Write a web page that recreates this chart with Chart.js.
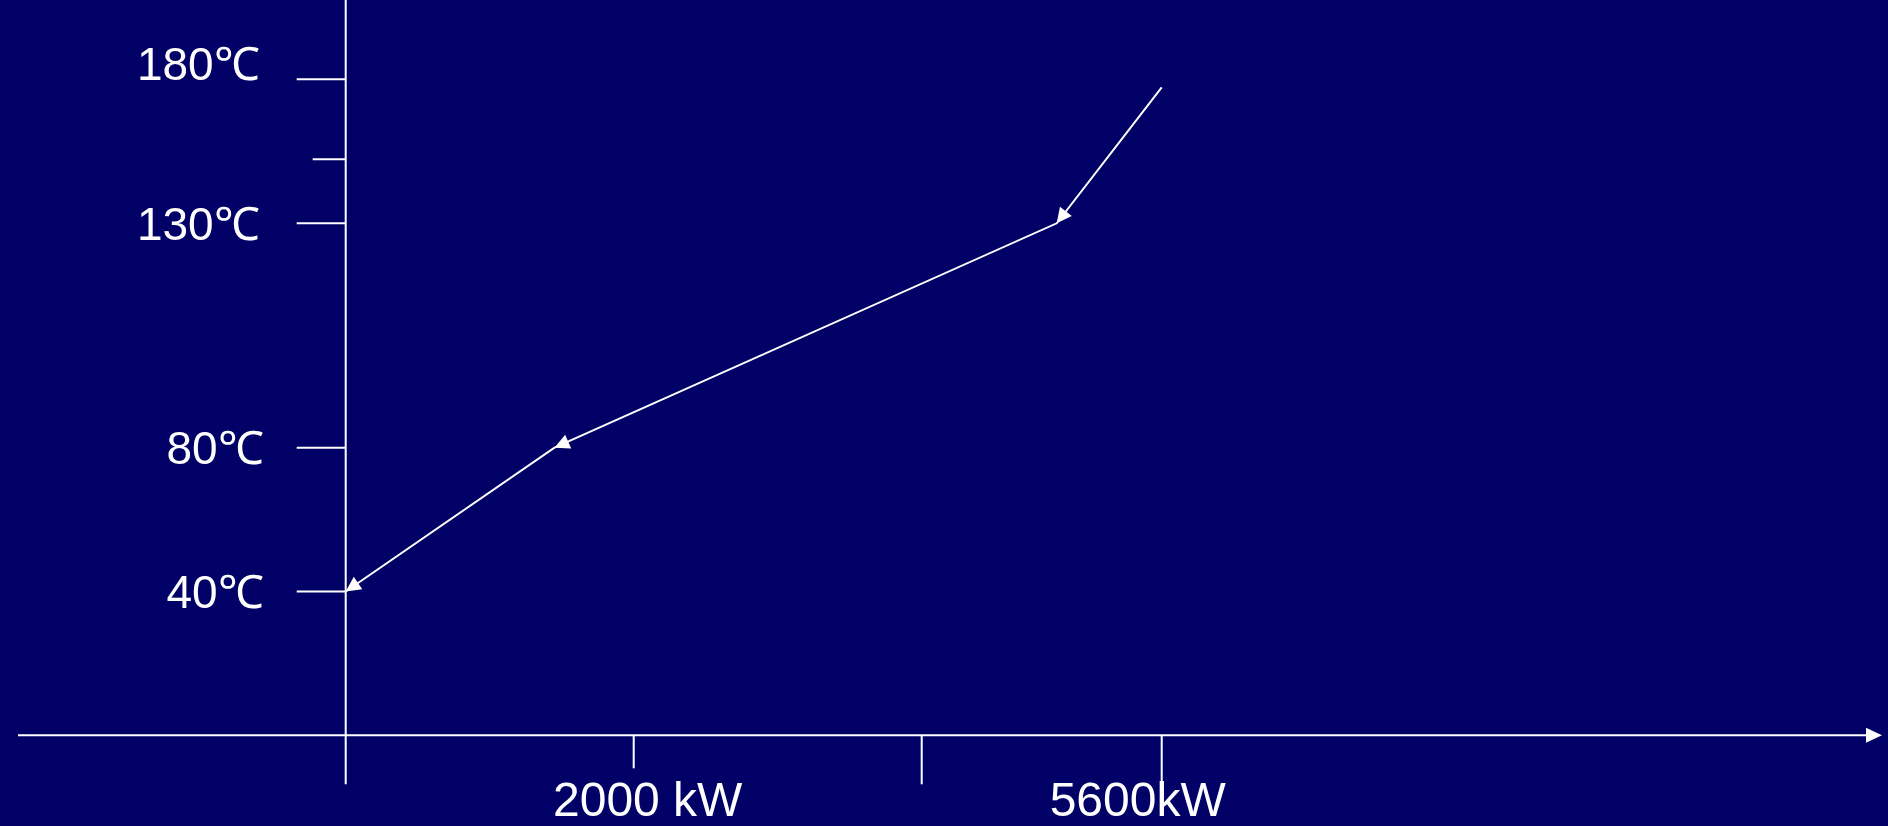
<!DOCTYPE html>
<html>
<head>
<meta charset="utf-8">
<script src="https://cdn.jsdelivr.net/npm/chart.js@4/dist/chart.umd.min.js"></script>
<style>
  html, body { margin: 0; padding: 0; background: #000066; overflow: hidden; }
  #wrap { position: relative; width: 1888px; height: 826px; }
</style>
</head>
<body>
<div id="wrap"><canvas id="c"></canvas></div>
<script>
// ---- data ----
const powerKW = [5600, 4900, 1450, 0];
const tempC = [177, 130, 80, 40];
const xTickValues = [2000, 4000, 5600];
const xTickLabels = ['2000 kW', '', '5600kW'];
const yTickValues = [180, 130, 80, 40];
const yTickLabels = ['180℃', '130℃', '80℃', '40℃'];
const yMinorTickValues = [150];

// ---- a piecewise-linear scale (the reference axis is schematic, not uniform) ----
const LinearScale = Chart.LinearScale || Chart.registry.getScale('linear');
class PiecewiseScale extends LinearScale {
  getPixelForValue(value) {
    if (value === null || value === undefined || isNaN(value)) return NaN;
    const sv = this.options.stopValues, sd = this.options.stopDecimals;
    let i = 0;
    while (i < sv.length - 2 && value > sv[i + 1]) i++;
    const dec = sd[i] + (value - sv[i]) / (sv[i + 1] - sv[i]) * (sd[i + 1] - sd[i]);
    return this.getPixelForDecimal(dec);
  }
  getValueForPixel(pixel) {
    const sv = this.options.stopValues, sd = this.options.stopDecimals;
    const dec = this.getDecimalForPixel(pixel);
    let i = 0;
    while (i < sd.length - 2 && dec > sd[i + 1]) i++;
    return sv[i] + (dec - sd[i]) / (sd[i + 1] - sd[i]) * (sv[i + 1] - sv[i]);
  }
}
PiecewiseScale.id = 'piecewise';
PiecewiseScale.defaults = {};
Chart.register(PiecewiseScale);

const FONT = "'Liberation Sans', Arial, sans-serif";
const SYMBOL_FONT = "Lato, 'Liberation Sans', sans-serif";

function arrowHead(ctx, tipX, tipY, fromX, fromY, len, halfW) {
  const a = Math.atan2(tipY - fromY, tipX - fromX);
  const bx = tipX - Math.cos(a) * len, by = tipY - Math.sin(a) * len;
  const nx = -Math.sin(a) * halfW, ny = Math.cos(a) * halfW;
  ctx.beginPath();
  ctx.moveTo(tipX, tipY);
  ctx.lineTo(bx + nx, by + ny);
  ctx.lineTo(bx - nx, by - ny);
  ctx.closePath();
  ctx.fill();
}

// draws "number + ℃" right-aligned at x, the symbol in a font with a compact ℃
function drawTempLabel(ctx, text, x, y, size) {
  const sym = text.endsWith('℃') ? '℃' : '';
  const num = sym ? text.slice(0, -1) : text;
  ctx.textAlign = 'left';
  ctx.font = size + 'px ' + SYMBOL_FONT;
  const symW = sym ? ctx.measureText(sym).width : 0;
  ctx.font = size + 'px ' + FONT;
  const numW = ctx.measureText(num).width;
  const start = x - symW - numW;
  ctx.fillText(num, start, y);
  if (sym) {
    ctx.font = size + 'px ' + SYMBOL_FONT;
    ctx.fillText(sym, start + numW, y);
  }
}

const schematicAxes = {
  id: 'schematicAxes',
  beforeDatasetsDraw(chart, args, o) {
    const ctx = chart.ctx;
    const xs = chart.scales.x, ys = chart.scales.y;
    const x0 = xs.getPixelForValue(0), y0 = ys.getPixelForValue(0);
    ctx.save();
    ctx.strokeStyle = o.color;
    ctx.fillStyle = o.color;
    ctx.lineWidth = o.lineWidth;
    ctx.lineCap = 'butt';
    // x axis with arrow
    const xEnd = chart.chartArea.right - o.xAxisRightGap;
    ctx.beginPath();
    ctx.moveTo(chart.chartArea.left + o.xAxisLeftGap, y0);
    ctx.lineTo(xEnd - o.arrowLen + 1, y0);
    ctx.stroke();
    arrowHead(ctx, xEnd, y0, xEnd - 10, y0, o.arrowLen, o.arrowHalf);
    // y axis
    ctx.beginPath();
    ctx.moveTo(x0, chart.chartArea.top);
    ctx.lineTo(x0, y0 + o.longTick);
    ctx.stroke();
    // y ticks + labels
    ctx.textBaseline = 'alphabetic';
    yTickValues.forEach((v, i) => {
      const py = ys.getPixelForValue(v);
      ctx.beginPath();
      ctx.moveTo(x0 - o.longTick, py);
      ctx.lineTo(x0, py);
      ctx.stroke();
      const n = o.yLabelNudge[i] || [0, 0];
      drawTempLabel(ctx, yTickLabels[i], x0 - o.yLabelGap + n[0], py + o.yBaselineShift + n[1], o.yFontSize);
    });
    yMinorTickValues.forEach(v => {
      const py = ys.getPixelForValue(v);
      ctx.beginPath();
      ctx.moveTo(x0 - o.shortTick, py);
      ctx.lineTo(x0, py);
      ctx.stroke();
    });
    // x ticks + labels
    ctx.font = o.xFontSize + 'px ' + FONT;
    ctx.textAlign = 'center';
    xTickValues.forEach((v, i) => {
      const px = xs.getPixelForValue(v);
      ctx.beginPath();
      ctx.moveTo(px, y0);
      ctx.lineTo(px, y0 + o.xTickLen[i]);
      ctx.stroke();
      if (xTickLabels[i]) {
        ctx.fillText(xTickLabels[i], px + o.xLabelNudge[i], y0 + o.xBaselineShift);
      }
    });
    ctx.restore();
  },
  afterDatasetsDraw(chart, args, o) {
    const ctx = chart.ctx;
    const pts = chart.getDatasetMeta(0).data;
    ctx.save();
    ctx.fillStyle = o.color;
    for (let i = 1; i < pts.length; i++) {
      arrowHead(ctx, pts[i].x, pts[i].y, pts[i - 1].x, pts[i - 1].y, o.lineArrowLen, o.lineArrowHalf);
    }
    ctx.restore();
  }
};

new Chart(document.getElementById('c'), {
  type: 'line',
  data: {
    datasets: [{
      data: powerKW.map((p, i) => ({ x: p, y: tempC[i] })),
      borderColor: '#ffffff',
      borderWidth: 2,
      pointRadius: 0,
      tension: 0,
      fill: false,
      borderCapStyle: 'butt'
    }]
  },
  options: {
    responsive: true,
    maintainAspectRatio: false,
    animation: false,
    events: [],
    layout: { padding: 0 },
    scales: {
      x: {
        type: 'piecewise',
        display: false,
        stopValues: [0, 4000, 5600],
        stopDecimals: [345.7 / 1888, 921.7 / 1888, 1161.7 / 1888]
      },
      y: {
        type: 'piecewise',
        display: false,
        stopValues: [0, 80, 130, 150, 180],
        stopDecimals: [(826 - 735.3) / 826, (826 - 447.7) / 826, (826 - 223.3) / 826, (826 - 159.3) / 826, (826 - 79.3) / 826]
      }
    },
    plugins: {
      legend: { display: false },
      tooltip: { enabled: false },
      schematicAxes: {
        color: '#ffffff',
        lineWidth: 2,
        xAxisLeftGap: 18,
        xAxisRightGap: 6,
        arrowLen: 16,
        arrowHalf: 7.5,
        longTick: 49,
        shortTick: 33,
        yFontSize: 46,
        yLabelGap: 82,
        yBaselineShift: 16.5,
        yLabelNudge: [[-4, -16], [-4, 0], [0, 0], [0, 0]],
        xFontSize: 48,
        xTickLen: [33, 49, 49],
        xLabelNudge: [14, 0, -24],
        xBaselineShift: 81,
        lineArrowLen: 15,
        lineArrowHalf: 7.5
      }
    }
  },
  plugins: [schematicAxes]
});
</script>
</body>
</html>
